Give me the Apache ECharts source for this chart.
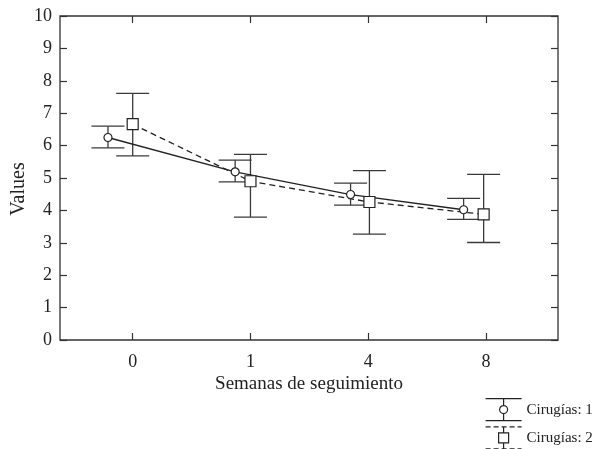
<!DOCTYPE html>
<html>
<head>
<meta charset="utf-8">
<script src="https://cdn.jsdelivr.net/npm/echarts@6/dist/echarts.min.js"></script>
<style>
html,body{margin:0;padding:0;background:#fff;}
#chart{width:596px;height:449px;}
</style>
</head>
<body>
<div id="chart"></div>
<script>
// ---- data ----
const categories = ['0', '1', '4', '8'];
const yTicks = [0, 1, 2, 3, 4, 5, 6, 7, 8, 9, 10];
// x positions (category index, with the small horizontal dodge seen in the picture)
const circX = [-0.21, 0.87, 1.85, 2.81];
const sqX = [0, 1, 2.01, 2.98];
// Cirugías: 1
const mean1 = [6.25, 5.19, 4.49, 4.02];
const low1 = [5.93, 4.88, 4.16, 3.72];
const high1 = [6.60, 5.55, 4.84, 4.37];
// Cirugías: 2
const mean2 = [6.66, 4.90, 4.26, 3.88];
const low2 = [5.68, 3.79, 3.27, 3.01];
const high2 = [7.61, 5.73, 5.23, 5.11];
const seriesNames = ['Cirugías: 1', 'Cirugías: 2'];

const FONT = 'Liberation Serif';
const INK = '#222';

// layout
const W = 596, H = 449;
const frameL = 60, frameR = 558, frameT = 16, frameB = 340;
const tick0 = 132.7, tickN = 486;   // pixel positions of first / last category
const pxPerUnit = (tickN - tick0) / (categories.length - 1);
const xMinData = (frameL - tick0) / pxPerUnit;
const xMaxData = (frameR - tick0) / pxPerUnit;

const chart = echarts.init(document.getElementById('chart'), null, {renderer: 'canvas'});

function errRender(params, api) {
  const x = api.value(0), lo = api.value(1), hi = api.value(2);
  const pLo = api.coord([x, lo]);
  const pHi = api.coord([x, hi]);
  const hw = 16.5;
  const style = {stroke: '#3a3a3a', lineWidth: 1.3, fill: null};
  return {
    type: 'group',
    children: [
      {type: 'line', shape: {x1: pLo[0], y1: pLo[1], x2: pHi[0], y2: pHi[1]}, style: style},
      {type: 'line', shape: {x1: pLo[0] - hw, y1: pLo[1], x2: pLo[0] + hw, y2: pLo[1]}, style: style},
      {type: 'line', shape: {x1: pHi[0] - hw, y1: pHi[1], x2: pHi[0] + hw, y2: pHi[1]}, style: style}
    ]
  };
}

const icon1 = 'path://M0,0H36M0,22H36M18,0V7M18,15V22M14,11A4,4,0,1,1,22,11A4,4,0,1,1,14,11Z';
const icon2 = 'path://M0,0H5M8,0H13M16,0H21M24,0H29M32,0H36M0,22H5M8,22H13M16,22H21M24,22H29M32,22H36M18,0V6M18,16V22M13,6H23V16H13Z';

const tickStyle = {show: true, inside: true, length: 7, lineStyle: {color: '#333', width: 1.2}};

const option = {
  animation: false,
  backgroundColor: '#fff',
  grid: [
    {left: frameL, right: W - frameR, top: frameT, bottom: H - frameB, outerBoundsMode: 'none', containLabel: false,
      show: true, borderColor: '#333', borderWidth: 1.3, backgroundColor: 'transparent'},
    {left: tick0, right: W - tickN, top: frameT, bottom: H - frameB, outerBoundsMode: 'none', containLabel: false}
  ],
  legend: {
    orient: 'vertical',
    left: 485,
    top: 398,
    height: 60,
    padding: 0,
    itemWidth: 36,
    itemHeight: 22,
    itemGap: 5,
    selectedMode: false,
    textStyle: {fontFamily: FONT, fontSize: 15, color: INK},
    data: [
      {name: seriesNames[0], icon: icon1, itemStyle: {color: '#fff', borderColor: INK, borderWidth: 1.2}},
      {name: seriesNames[1], icon: icon2, itemStyle: {color: '#fff', borderColor: INK, borderWidth: 1.2}}
    ]
  },
  xAxis: [
    {
      gridIndex: 0, type: 'value', min: xMinData, max: xMaxData,
      axisLine: {show: false, onZero: false}, axisTick: {show: false}, axisLabel: {show: false}, splitLine: {show: false},
      name: 'Semanas de seguimiento', nameLocation: 'middle', nameGap: 35,
      nameTextStyle: {fontFamily: FONT, fontSize: 19, color: INK}
    },
    {
      gridIndex: 1, type: 'value', min: 0, max: categories.length - 1, interval: 1, position: 'bottom',
      axisLine: {show: false, onZero: false}, axisTick: tickStyle, splitLine: {show: false},
      axisLabel: {fontFamily: FONT, fontSize: 18, color: INK, margin: 13,
        formatter: function (v) { return categories[Math.round(v)] || ''; }}
    },
    {
      gridIndex: 1, type: 'value', min: 0, max: categories.length - 1, interval: 1, position: 'top',
      axisLine: {show: false, onZero: false}, axisTick: tickStyle, splitLine: {show: false},
      axisLabel: {show: false}
    }
  ],
  yAxis: [
    {
      gridIndex: 0, type: 'value', min: yTicks[0], max: yTicks[yTicks.length - 1], interval: 1, position: 'left',
      axisLine: {show: false, onZero: false}, axisTick: tickStyle, splitLine: {show: false},
      axisLabel: {fontFamily: FONT, fontSize: 18, color: INK, margin: 8},
      name: 'Values', nameLocation: 'middle', nameGap: 31, nameMoveOverlap: false,
      nameTextStyle: {fontFamily: FONT, fontSize: 20, color: INK, padding: [0, 22, 0, 0]}
    },
    {
      gridIndex: 0, type: 'value', min: yTicks[0], max: yTicks[yTicks.length - 1], interval: 1, position: 'right',
      axisLine: {show: false, onZero: false}, axisTick: tickStyle, splitLine: {show: false}, axisLabel: {show: false}
    },
    {
      gridIndex: 1, type: 'value', min: yTicks[0], max: yTicks[yTicks.length - 1], show: false
    }
  ],
  series: [
    {
      type: 'custom', xAxisIndex: 0, yAxisIndex: 0, clip: false, z: 2,
      renderItem: errRender,
      data: circX.map(function (x, i) { return [x, low1[i], high1[i]]; })
    },
    {
      type: 'custom', xAxisIndex: 0, yAxisIndex: 0, clip: false, z: 2,
      renderItem: errRender,
      data: sqX.map(function (x, i) { return [x, low2[i], high2[i]]; })
    },
    {
      name: seriesNames[0], type: 'line', xAxisIndex: 0, yAxisIndex: 0, z: 3,
      symbol: 'circle', symbolSize: 8,
      itemStyle: {color: '#fff', borderColor: INK, borderWidth: 1.2},
      lineStyle: {color: INK, width: 1.3, type: 'solid'},
      data: circX.map(function (x, i) { return [x, mean1[i]]; })
    },
    {
      name: seriesNames[1], type: 'line', xAxisIndex: 0, yAxisIndex: 0, z: 3,
      symbol: 'rect', symbolSize: 11,
      itemStyle: {color: '#fff', borderColor: INK, borderWidth: 1.2},
      lineStyle: {color: INK, width: 1.3, type: [6, 4]},
      data: sqX.map(function (x, i) { return [x, mean2[i]]; })
    }
  ]
};

chart.setOption(option);
</script>
</body>
</html>
